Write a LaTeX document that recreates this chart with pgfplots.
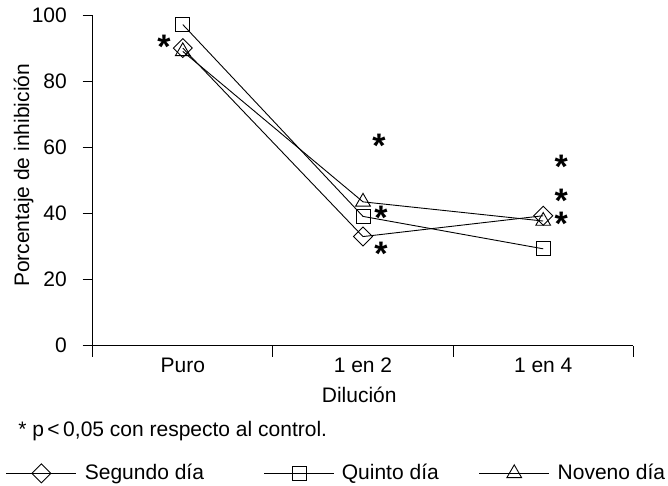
\documentclass[border=0pt]{standalone}
\usepackage{fontspec}
\setmainfont{Liberation Sans}
\usepackage{pgfplots}
\pgfplotsset{compat=1.18}
\begin{document}
\fontsize{21}{25}\selectfont
\begin{tikzpicture}
\useasboundingbox (-92.7pt,-139.3pt) rectangle (575.3pt,345.7pt);
\begin{axis}[
  at={(0pt,0pt)}, anchor=south west,
  scale only axis, width=540.6pt, height=330.7pt,
  xmin=-0.5, xmax=2.5, ymin=0, ymax=100,
  axis lines*=left,
  axis line style={line width=0.9pt},
  clip=false,
  /pgf/number format/assume math mode=true,
  xtick={0,1,2}, xticklabels={Puro,1 en 2,1 en 4},
  minor xtick={-0.5,0.5,1.5,2.5},
  ytick={0,20,40,60,80,100},
  tick align=outside,
  major tick length=10pt, minor tick length=11pt,
  tick style={line width=0.9pt, black},
  major x tick style={draw=none},
  xticklabel style={anchor=base, inner sep=0pt, yshift=-16.3pt},
  yticklabel style={anchor=east, inner sep=0pt, xshift=-15.7pt},
  xlabel={Dilución},
  xlabel style={at={(axis description cs:0.493,-0.173)}, anchor=base, inner sep=0pt},
  ylabel={Porcentaje de inhibición},
  ylabel style={at={(axis description cs:-0.128,0.515)}, anchor=center, inner sep=0pt},
  legend columns=3,
  legend cell align=left,
  legend style={at={(axis description cs:-0.1604,-0.386)}, anchor=west, draw=none, fill=none,
    inner sep=0pt, outer sep=0pt, nodes={inner sep=0pt, anchor=west},
    /tikz/column 1/.style={column sep=8pt},
    /tikz/column 2/.style={column sep=60pt},
    /tikz/column 3/.style={column sep=7pt},
    /tikz/column 4/.style={column sep=40pt},
    /tikz/column 5/.style={column sep=8pt}},
  legend image code/.code={\draw[mark repeat=2,mark phase=2,#1] plot coordinates {(0pt,0pt) (35pt,0pt) (70pt,0pt)};},
]
\addplot[line width=0.9pt, black, mark=square, mark size=6.7pt, mark options={rotate=45, fill=white, solid}]
  coordinates {(0,90.0) (1,33.0) (2,39.3)};
\addlegendentry{Segundo día}
\addplot[line width=0.9pt, black, mark=square, mark size=7pt, mark options={fill=white, solid}]
  coordinates {(0,97.1) (1,39.1) (2,29.3)};
\addlegendentry{Quinto día}
\addplot[line width=0.9pt, black, mark=triangle, mark size=8.5pt, mark options={fill=white, solid}]
  coordinates {(0,89.0) (1,43.5) (2,37.7)};
\addlegendentry{Noveno día}
\addplot[only marks, forget plot, black, mark=text,
  text mark={\fontsize{34}{34}\selectfont\bfseries\smash{\raisebox{-0.46em}{*}}}]
  coordinates {(-0.104,91.6) (1.089,61.7) (1.10,40.0) (1.10,28.9) (2.10,55.2) (2.10,45.1) (2.10,38.0)};
\node[anchor=base west, inner sep=0pt] at (axis description cs:-0.138,-0.275) {* p\,<\,0,05 con respecto al control.};
\end{axis}
\end{tikzpicture}
\end{document}
